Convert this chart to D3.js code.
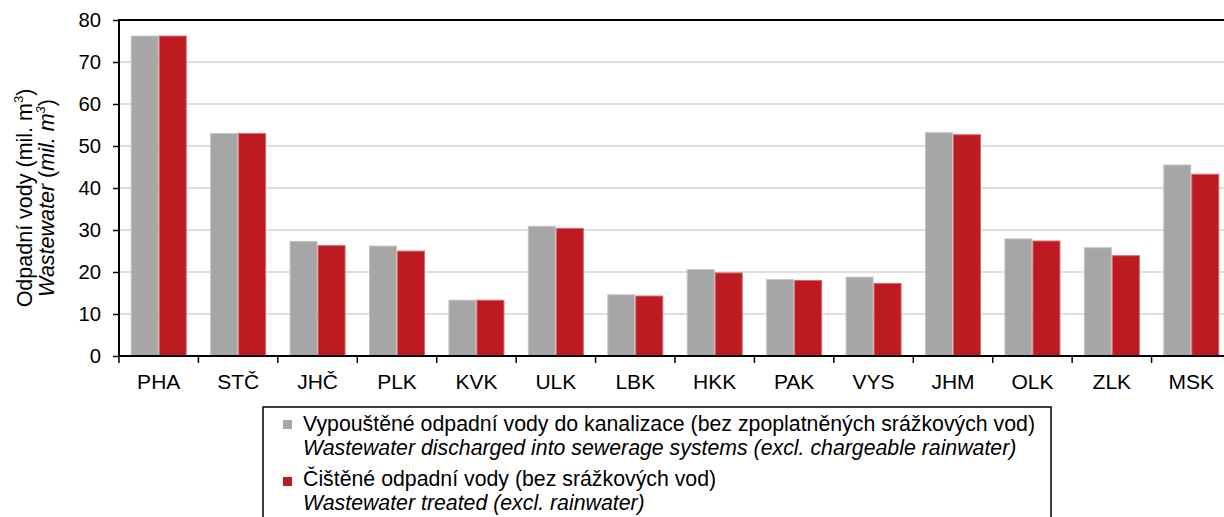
<!DOCTYPE html>
<html>
<head>
<meta charset="utf-8">
<script src="https://cdn.jsdelivr.net/npm/d3@7"></script>
<style>
  html, body { margin: 0; padding: 0; background: #fff; }
  svg { display: block; font-family: "Liberation Sans", Arial, sans-serif; }
</style>
</head>
<body>
<svg id="chart" width="1224" height="517"></svg>
<script>
const categories = ["PHA","STČ","JHČ","PLK","KVK","ULK","LBK","HKK","PAK","VYS","JHM","OLK","ZLK","MSK"];
const discharged = [76.3, 53.1, 27.4, 26.3, 13.4, 31.0, 14.7, 20.7, 18.3, 18.9, 53.3, 28.0, 25.9, 45.6];
const treated    = [76.3, 53.1, 26.4, 25.1, 13.4, 30.5, 14.4, 19.9, 18.1, 17.4, 52.8, 27.5, 24.0, 43.4];
const yTicks = [0, 10, 20, 30, 40, 50, 60, 70, 80];
const seriesNames = ["discharged", "treated"];
const legendLines = [
  ["Vypouštěné odpadní vody do kanalizace (bez zpoplatněných srážkových vod)",
   "Wastewater discharged into sewerage systems (excl. chargeable rainwater)"],
  ["Čištěné odpadní vody (bez srážkových vod)",
   "Wastewater treated (excl. rainwater)"]
];

const colors = { discharged: "#a6a6a6", treated: "#be1a22" };
const strokes = { discharged: "#c4c4c4", treated: "#d46a70" };

const svg = d3.select("#chart");
const mLeft = 119, mTop = 20, mBottom = 356, mRight = 1231;

const x = d3.scaleBand().domain(categories).range([mLeft, mRight]).padding(0);
const x1 = d3.scaleBand().domain(seriesNames).range([11.7, x.bandwidth() - 11.7]).padding(0);
const y = d3.scaleLinear().domain([0, 80]).range([mBottom, mTop]);

// gridlines
svg.append("g").selectAll("line").data(yTicks.filter(d => d > 0 && d < 80)).join("line")
  .attr("x1", mLeft).attr("x2", 1224)
  .attr("y1", d => y(d)).attr("y2", d => y(d))
  .attr("stroke", "#d3d3d3").attr("stroke-width", 1.4);

// bars
const data = categories.map((c, i) => ({ c, discharged: discharged[i], treated: treated[i] }));
const groups = svg.append("g").selectAll("g").data(data).join("g")
  .attr("transform", d => `translate(${x(d.c)},0)`);
groups.selectAll("rect").data(d => seriesNames.map(k => ({ k, v: d[k] }))).join("rect")
  .attr("x", d => x1(d.k) + 0.5)
  .attr("y", d => y(d.v) + 0.5)
  .attr("width", x1.bandwidth() - 1)
  .attr("height", d => y(0) - y(d.v) - 0.5)
  .attr("fill", d => colors[d.k])
  .attr("stroke", d => strokes[d.k])
  .attr("stroke-width", 1);

// top border
svg.append("line").attr("x1", mLeft - 1).attr("x2", 1224).attr("y1", y(80)).attr("y2", y(80))
  .attr("stroke", "#000").attr("stroke-width", 2);

// y axis
const yAxis = d3.axisLeft(y).tickValues(yTicks).tickSize(6).tickPadding(12).tickFormat(d3.format("d"));
const gy = svg.append("g").attr("transform", `translate(${mLeft},0)`).call(yAxis);
gy.select(".domain").attr("stroke-width", 2).attr("d", `M0,${mTop - 1}V${mBottom + 1}`);
gy.selectAll(".tick line").attr("stroke-width", 1.5);
gy.selectAll("text").attr("font-size", "20.3px").attr("font-family", "Liberation Sans, Arial, sans-serif").attr("fill", "#000");

// x axis
const xAxis = d3.axisBottom(x).tickSize(0).tickPadding(0);
const gx = svg.append("g").attr("transform", `translate(0,${mBottom})`).call(xAxis);
gx.select(".domain").attr("stroke-width", 2).attr("d", `M${mLeft - 1},0H${mRight}`);
gx.selectAll(".tick text").attr("font-size", "21px").attr("font-family", "Liberation Sans, Arial, sans-serif")
  .attr("fill", "#000").attr("dy", 0).attr("y", 32.5);
// boundary ticks between categories
const boundaries = categories.map(c => x(c));
gx.append("g").selectAll("line").data(boundaries).join("line")
  .attr("x1", d => d).attr("x2", d => d).attr("y1", 0).attr("y2", 7)
  .attr("stroke", "#000").attr("stroke-width", 1.5);

// y axis title
const yt = svg.append("g").attr("transform", "translate(0,198) rotate(-90)");
const t1 = yt.append("text").attr("x", 0).attr("y", 32).attr("text-anchor", "middle").attr("font-size", "21.5px");
t1.append("tspan").text("Odpadní vody (mil. m");
t1.append("tspan").text("3").attr("font-size", "13px").attr("dy", -9);
t1.append("tspan").text(")").attr("dy", 9);
const t2 = yt.append("text").attr("x", 0).attr("y", 54).attr("text-anchor", "middle").attr("font-size", "21.5px");
t2.append("tspan").text("Wastewater").attr("font-style", "italic");
t2.append("tspan").text(" (").attr("font-style", "normal");
t2.append("tspan").text("mil. m").attr("font-style", "italic");
t2.append("tspan").text("3").attr("font-style", "italic").attr("font-size", "13px").attr("dy", -9);
t2.append("tspan").text(")").attr("font-style", "normal").attr("dy", 9);

// legend
const lg = svg.append("g");
lg.append("rect").attr("x", 263).attr("y", 407).attr("width", 788).attr("height", 130)
  .attr("fill", "#fff").attr("stroke", "#000").attr("stroke-width", 1.5);
const legendY = [[431, 455], [486, 510]];
seriesNames.forEach((k, i) => {
  lg.append("rect").attr("x", 283).attr("y", legendY[i][0] - 11 + i * 2).attr("width", 9).attr("height", 9)
    .attr("fill", colors[k]);
  lg.append("text").attr("x", 303).attr("y", legendY[i][0]).attr("font-size", "21.3px").text(legendLines[i][0]);
  lg.append("text").attr("x", 303).attr("y", legendY[i][1]).attr("font-size", "21.3px")
    .attr("font-style", "italic").text(legendLines[i][1]);
});
</script>
</body>
</html>
